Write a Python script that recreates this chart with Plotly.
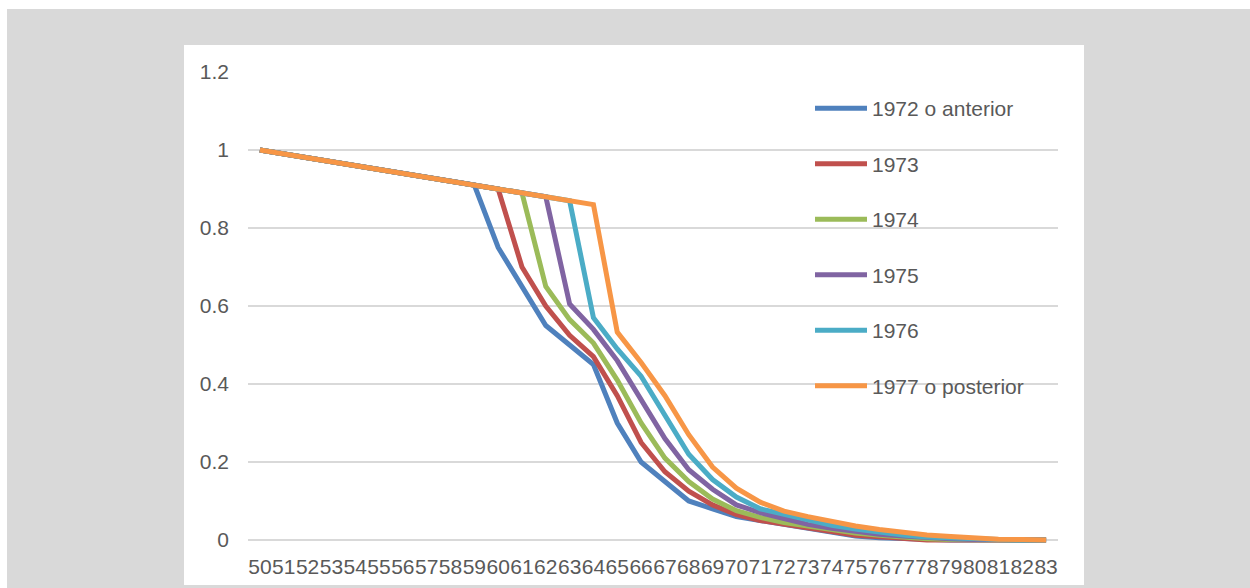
import plotly.graph_objects as go

# Ages on the horizontal axis
ages = list(range(50, 84))
age_labels = [str(a) for a in ages]

# Survival share by cohort
s1972 = [1.00, 0.99, 0.98, 0.97, 0.96, 0.95, 0.94, 0.93, 0.92, 0.91,
         0.75, 0.65, 0.55, 0.50, 0.45, 0.30, 0.20, 0.15, 0.10, 0.08,
         0.06, 0.05, 0.04, 0.03, 0.02, 0.01, 0.006, 0.003, 0.0, 0.0,
         0.0, 0.0, 0.0, 0.0]
s1973 = [1.00, 0.99, 0.98, 0.97, 0.96, 0.95, 0.94, 0.93, 0.92, 0.91,
         0.90, 0.70, 0.60, 0.525, 0.47, 0.37, 0.25, 0.175, 0.125, 0.09,
         0.065, 0.05, 0.04, 0.03, 0.02, 0.012, 0.008, 0.004, 0.0, 0.0,
         0.0, 0.0, 0.0, 0.0]
s1974 = [1.00, 0.99, 0.98, 0.97, 0.96, 0.95, 0.94, 0.93, 0.92, 0.91,
         0.90, 0.89, 0.65, 0.565, 0.505, 0.41, 0.30, 0.21, 0.15, 0.105,
         0.075, 0.058, 0.045, 0.035, 0.025, 0.018, 0.012, 0.007, 0.003, 0.001,
         0.0, 0.0, 0.0, 0.0]
s1975 = [1.00, 0.99, 0.98, 0.97, 0.96, 0.95, 0.94, 0.93, 0.92, 0.91,
         0.90, 0.89, 0.88, 0.605, 0.54, 0.46, 0.36, 0.26, 0.18, 0.13,
         0.09, 0.07, 0.055, 0.04, 0.03, 0.022, 0.015, 0.01, 0.005, 0.003,
         0.001, 0.0, 0.0, 0.0]
s1976 = [1.00, 0.99, 0.98, 0.97, 0.96, 0.95, 0.94, 0.93, 0.92, 0.91,
         0.90, 0.89, 0.88, 0.87, 0.57, 0.49, 0.42, 0.32, 0.22, 0.155,
         0.11, 0.08, 0.065, 0.05, 0.038, 0.028, 0.02, 0.013, 0.008, 0.005,
         0.003, 0.001, 0.0, 0.0]
s1977 = [1.00, 0.99, 0.98, 0.97, 0.96, 0.95, 0.94, 0.93, 0.92, 0.91,
         0.90, 0.89, 0.88, 0.87, 0.86, 0.533, 0.455, 0.37, 0.27, 0.187,
         0.133, 0.097, 0.074, 0.06, 0.047, 0.036, 0.027, 0.019, 0.013, 0.009,
         0.005, 0.002, 0.001, 0.0]

series_names = ["1972 o anterior", "1973", "1974", "1975", "1976", "1977 o posterior"]
series_values = [s1972, s1973, s1974, s1975, s1976, s1977]
series_colors = ["#4F81BD", "#C0504D", "#9BBB59", "#8064A2", "#4BACC6", "#F79646"]

y_ticks = [0, 0.2, 0.4, 0.6, 0.8, 1.0, 1.2]
y_tick_text = ["0", "0.2", "0.4", "0.6", "0.8", "1", "1.2"]

W, H = 1250, 588
ML, MR, MT, MB = 248, 192, 72, 40
PW, PH = W - ML - MR, H - MT - MB
Y_TOP = 1.2
Y_PER_PX = 1.2 / 468.0
Y_BOTTOM = Y_TOP - PH * Y_PER_PX

FONT = "Liberation Sans"
TXT = "#595959"

fig = go.Figure()
for name, vals, col in zip(series_names, series_values, series_colors):
    fig.add_trace(go.Scatter(
        x=ages, y=vals, name=name, mode="lines",
        legendgroup=name,
        line=dict(color=col, width=5),
    ))


def px_x(p):
    return (p - ML) / PW


def px_y(p):
    return (H - MB - p) / PH


shapes = [
    # white chart panel
    dict(type="rect", xref="paper", yref="paper", layer="below",
         x0=px_x(184), x1=px_x(1084), y0=px_y(585), y1=px_y(45),
         fillcolor="white", line=dict(width=0)),
    # white strips along the top and left edges
    dict(type="rect", xref="paper", yref="paper", layer="below",
         x0=px_x(0), x1=px_x(W), y0=px_y(9), y1=px_y(0),
         fillcolor="white", line=dict(width=0)),
    dict(type="rect", xref="paper", yref="paper", layer="below",
         x0=px_x(0), x1=px_x(7), y0=px_y(H), y1=px_y(0),
         fillcolor="white", line=dict(width=0)),
]

fig.update_layout(
    width=W, height=H,
    margin=dict(l=ML, r=MR, t=MT, b=MB, autoexpand=False),
    paper_bgcolor="#D9D9D9",
    plot_bgcolor="white",
    font=dict(family=FONT, size=21, color=TXT),
    shapes=shapes,
    showlegend=True,
    legend=dict(
        x=px_x(810), xanchor="left",
        y=px_y(88), yanchor="top",
        bgcolor="rgba(0,0,0,0)",
        itemwidth=52,
        tracegroupgap=25.2,
        font=dict(family=FONT, size=21, color=TXT),
    ),
    xaxis=dict(
        range=[49.5, 83.5],
        tickmode="array", tickvals=ages, ticktext=age_labels,
        tickangle=0, showgrid=False, zeroline=False, showline=False,
        ticks="", ticklabelstandoff=4, automargin=False,
        tickfont=dict(family=FONT, size=21, color=TXT),
        fixedrange=True,
    ),
    yaxis=dict(
        range=[Y_BOTTOM, Y_TOP],
        tickmode="array", tickvals=y_ticks, ticktext=y_tick_text,
        showgrid=True, gridcolor="#D9D9D9", gridwidth=1.5,
        zeroline=False, showline=False,
        ticks="", ticklabelstandoff=18, automargin=False,
        tickfont=dict(family=FONT, size=21, color=TXT),
        fixedrange=True,
    ),
)

fig.write_html("out.html")
